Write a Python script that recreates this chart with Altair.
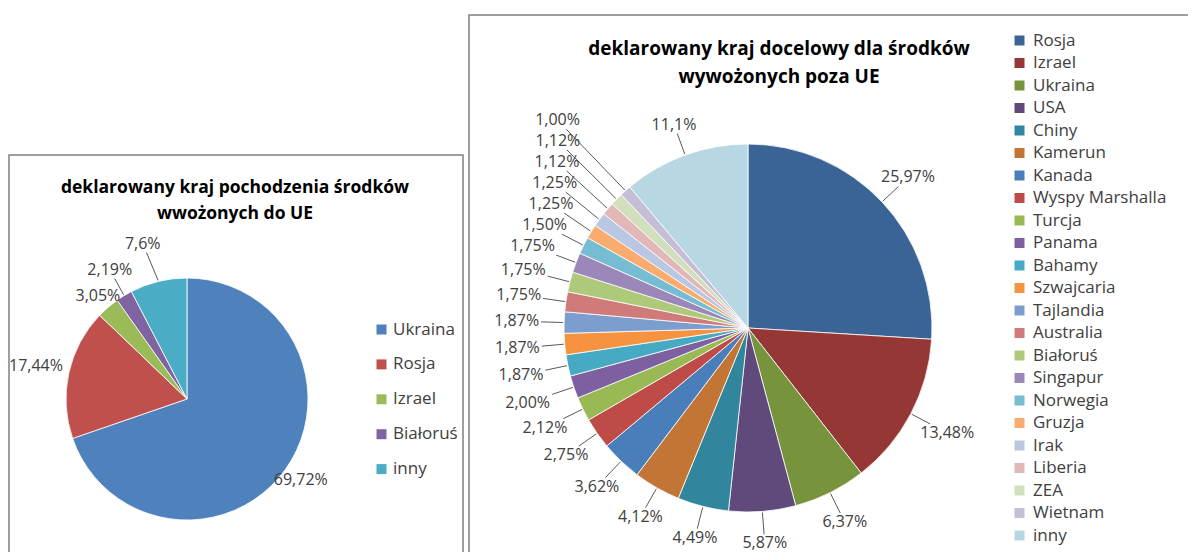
import math
import altair as alt
import pandas as pd

FONT = "Open Sans"
TXT = "#404040"

# ---------------- data ----------------
left_title = ["deklarowany kraj pochodzenia środków", "wwożonych do UE"]
left_countries = ["Ukraina", "Rosja", "Izrael", "Białoruś", "inny"]
left_values = [69.72, 17.44, 3.05, 2.19, 7.6]
left_labels = ["69,72%", "17,44%", "3,05%", "2,19%", "7,6%"]
left_colors = ["#4F81BD", "#C0504D", "#9BBB59", "#8064A2", "#4BACC6"]

right_title = ["deklarowany kraj docelowy dla środków", "wywożonych poza UE"]
right_countries = ["Rosja", "Izrael", "Ukraina", "USA", "Chiny", "Kamerun", "Kanada",
                   "Wyspy Marshalla", "Turcja", "Panama", "Bahamy", "Szwajcaria",
                   "Tajlandia", "Australia", "Białoruś", "Singapur", "Norwegia",
                   "Gruzja", "Irak", "Liberia", "ZEA", "Wietnam", "inny"]
right_values = [25.97, 13.48, 6.37, 5.87, 4.49, 4.12, 3.62, 2.75, 2.12, 2.00, 1.87,
                1.87, 1.87, 1.75, 1.75, 1.75, 1.50, 1.25, 1.25, 1.12, 1.12, 1.00, 11.1]
right_labels = ["25,97%", "13,48%", "6,37%", "5,87%", "4,49%", "4,12%", "3,62%",
                "2,75%", "2,12%", "2,00%", "1,87%", "1,87%", "1,87%", "1,75%",
                "1,75%", "1,75%", "1,50%", "1,25%", "1,25%", "1,12%", "1,12%",
                "1,00%", "11,1%"]
right_colors = ["#3B6496", "#953735", "#77933C", "#5F4A7B", "#31859C", "#C27535",
                "#4A7EBB", "#BE4B48", "#98B954", "#7D60A0", "#46AAC5", "#F69240",
                "#7C9ECF", "#CF7B79", "#AFC97A", "#9B87B9", "#76BDD3", "#F9AC6E",
                "#B9C7E2", "#E1B8B7", "#D1DFBD", "#C6BDD7", "#B7D7E3"]

# ---------------- layout (canvas coords, page offset 8px) ----------------
W, H = 1180, 544
L_CX, L_CY, L_R = 179, 391, 121
R_CX, R_CY, R_R = 740, 320, 184
LABEL_FS = 16
HH = 8  # half label height

theta_scale = alt.Scale(domain=[0, 1], range=[0, 2 * math.pi])


def pie_base(countries, values, labels):
    df = pd.DataFrame({"kraj": countries, "v": values, "label": labels,
                       "order": list(range(len(countries)))})
    return (alt.Chart(df)
            .transform_joinaggregate(total="sum(v)")
            .transform_window(cum="sum(v)", sort=[alt.SortField("order")], frame=[None, 0])
            .transform_calculate(start="(datum.cum - datum.v) / datum.total",
                                 end="datum.cum / datum.total",
                                 mid="(datum.cum - datum.v / 2) / datum.total"))


def label_positions(base, cx, cy, r, g, gap, grp_max, shift):
    digit, tail = 0.572 * LABEL_FS, (0.26 + 0.82) * LABEL_FS
    srt = [alt.SortField("order")]
    return (base
            .transform_calculate(a="datum.mid * 2 * PI")
            .transform_calculate(s="sin(datum.a)", c="cos(datum.a)",
                                 hw=f"({digit} * (length(datum.label) - 2) + {tail}) / 2 + 1")
            .transform_calculate(ext=f"min(datum.hw / max(abs(datum.s), 0.001), {HH} / max(abs(datum.c), 0.001))")
            .transform_calculate(R=f"{r + g} + datum.ext")
            .transform_calculate(nx=f"{cx} + datum.R * datum.s",
                                 ny=f"{cy} - datum.R * datum.c",
                                 grp=f"datum.mid > 0.5 && datum.mid < {grp_max} ? 1 : 0")
            .transform_window(idx="row_number()", groupby=["grp"], sort=srt)
            .transform_calculate(z=f"datum.ny + {gap} * datum.idx")
            .transform_window(m="min(z)", groupby=["grp"], sort=srt, frame=[None, 0])
            .transform_calculate(ly=f"datum.grp == 1 ? min(datum.ny, datum.m - {gap} * datum.idx) : datum.ny")
            .transform_calculate(lx=f"datum.nx - {shift} * (datum.ny - datum.ly)")
            .transform_calculate(ex=f"{cx} + {r + 1} * datum.s", ey=f"{cy} - {r + 1} * datum.c")
            .transform_calculate(ddx="datum.ex - datum.lx", ddy="datum.ey - datum.ly")
            .transform_calculate(tt=f"min((datum.hw + 1) / max(abs(datum.ddx), 0.001), ({HH} + 1) / max(abs(datum.ddy), 0.001))")
            .transform_calculate(bx="datum.lx + datum.ddx * datum.tt",
                                 by="datum.ly + datum.ddy * datum.tt")
            .transform_calculate(L="sqrt(pow(datum.ex - datum.bx, 2) + pow(datum.ey - datum.by, 2))"))


def pie_layers(countries, values, labels, colors, cx, cy, r, g, gap, grp_max, shift,
               legend, min_leader):
    base = pie_base(countries, values, labels)
    pie = base.mark_arc(outerRadius=r, stroke="white", strokeWidth=0.8).encode(
        x=alt.value(cx), y=alt.value(cy),
        theta=alt.Theta("start:Q", scale=theta_scale, stack=None),
        theta2="end:Q",
        color=alt.Color("kraj:N", scale=alt.Scale(domain=countries, range=colors),
                        legend=legend),
    )
    lab = label_positions(base, cx, cy, r, g, gap, grp_max, shift)
    text = lab.mark_text(font=FONT, fontSize=LABEL_FS, color=TXT, baseline="middle").encode(
        x=alt.X("lx:Q", scale=None, axis=None),
        y=alt.Y("ly:Q", scale=None, axis=None),
        text="label:N",
    )
    lead = (lab.transform_filter(f"datum.L > {min_leader}")
            .mark_rule(color="#595959", strokeWidth=1)
            .encode(x=alt.X("ex:Q", scale=None, axis=None),
                    y=alt.Y("ey:Q", scale=None, axis=None),
                    x2="bx:Q", y2="by:Q"))
    return alt.layer(pie, lead, text)


left_legend = alt.Legend(orient="none", legendX=365, legendY=313, title=None,
                         symbolType="square", symbolSize=100, symbolStrokeWidth=0,
                         labelFont=FONT, labelFontSize=17, labelColor=TXT,
                         labelOffset=3, rowPadding=16.9, padding=0)
right_legend = alt.Legend(orient="none", legendX=1003, legendY=24, title=None,
                          symbolType="square", symbolSize=100, symbolStrokeWidth=0,
                          labelFont=FONT, labelFontSize=17, labelColor=TXT,
                          labelOffset=5, rowPadding=4.5, padding=0)

left = pie_layers(left_countries, left_values, left_labels, left_colors,
                  L_CX, L_CY, L_R, 5, 26, 0.99, 0.5, left_legend, 7)
right = pie_layers(right_countries, right_values, right_labels, right_colors,
                   R_CX, R_CY, R_R, 24, 21, 0.93, 1.0, right_legend, 3)

one = alt.Data(values=[{"k": 0}])
title_l = alt.Chart(one).mark_text(text=left_title, font=FONT, fontSize=17.5,
                                   fontWeight="bold", color="#000000",
                                   lineHeight=26, baseline="alphabetic").encode(
    x=alt.value(227), y=alt.value(185))
title_r = alt.Chart(one).mark_text(text=right_title, font=FONT, fontSize=19,
                                   fontWeight="bold", color="#000000",
                                   lineHeight=28, baseline="alphabetic").encode(
    x=alt.value(771), y=alt.value(47))

border_l = alt.Chart(one).mark_rect(fillOpacity=0, stroke="#808080", strokeWidth=1.5).encode(
    x=alt.value(1), x2=alt.value(455), y=alt.value(147), y2=alt.value(700))
border_r = alt.Chart(one).mark_rect(fillOpacity=0, stroke="#808080", strokeWidth=1.5).encode(
    x=alt.value(461), x2=alt.value(1400), y=alt.value(7), y2=alt.value(700))

chart = (alt.layer(border_l, border_r, left, right, title_l, title_r)
         .resolve_scale(color="independent")
         .properties(width=W, height=H, padding=0, autosize="none", background="white")
         .configure_view(stroke=None))

chart.save("out.html", embed_options={"renderer": "svg", "actions": False})
